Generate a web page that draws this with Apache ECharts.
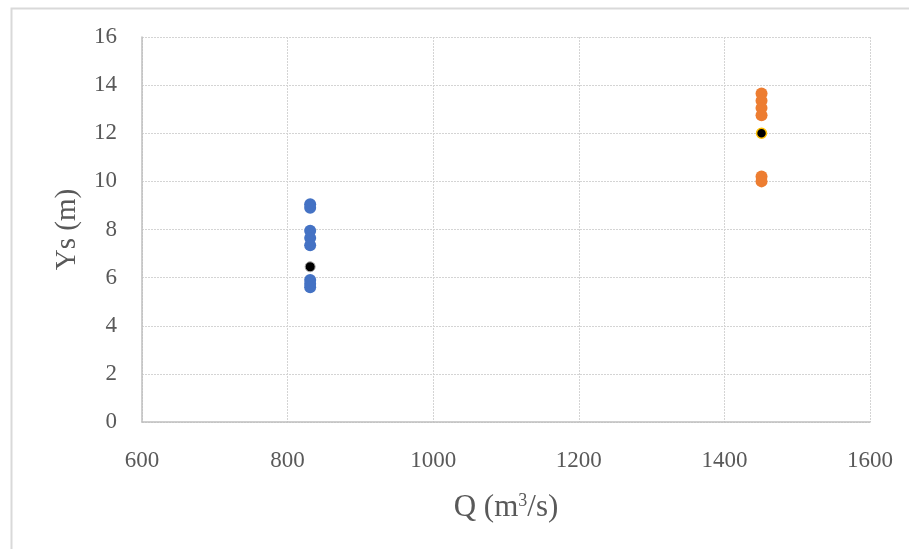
<!DOCTYPE html>
<html>
<head>
<meta charset="utf-8">
<script src="https://cdn.jsdelivr.net/npm/echarts@6/dist/echarts.min.js"></script>
<style>
  html, body { margin: 0; padding: 0; background: #fff; }
  #chart { width: 909px; height: 549px; }
</style>
</head>
<body>
<div id="chart"></div>
<script>
// Discharge Q (m3/s) and scour depth Ys (m) observations
const blueQ = [831, 831, 831, 831, 831, 831, 831, 831];
const blueYs = [9.05, 8.9, 7.95, 7.65, 7.35, 5.9, 5.75, 5.6];
const blueMeanQ = [831];
const blueMeanYs = [6.45];

const orangeQ = [1451, 1451, 1451, 1451, 1451, 1451];
const orangeYs = [13.65, 13.35, 13.05, 12.75, 10.2, 10.0];
const orangeMeanQ = [1451];
const orangeMeanYs = [12.0];

const xTicks = [600, 800, 1000, 1200, 1400, 1600];
const yTicks = [0, 2, 4, 6, 8, 10, 12, 14, 16];

const pairs = (xs, ys) => xs.map((x, i) => [x, ys[i]]);

const chart = echarts.init(document.getElementById('chart'));
const tickFont = { fontFamily: 'Liberation Serif', fontSize: 23, color: '#595959' };
const gridStyle = { color: '#d4d4d4', type: [2, 1], width: 1 };

chart.setOption({
  animation: false,
  backgroundColor: '#fff',
  graphic: [{
    type: 'rect',
    shape: { x: 11.5, y: 8.5, width: 1000, height: 600 },
    style: { fill: 'none', stroke: '#d9d9d9', lineWidth: 2 },
    silent: true
  }],
  grid: { left: 142, right: 39, top: 37, bottom: 127 },
  xAxis: {
    type: 'value',
    min: xTicks[0],
    max: xTicks[xTicks.length - 1],
    interval: 200,
    name: 'Q (m{sup|3}/s)',
    nameLocation: 'middle',
    nameGap: 70,
    nameTextStyle: {
      fontFamily: 'Liberation Serif', fontSize: 31, color: '#595959',
      rich: { sup: { fontFamily: 'Liberation Serif', fontSize: 18, color: '#595959', verticalAlign: 'top', padding: [0, 0, 13, 0] } }
    },
    axisLine: { show: true, lineStyle: { color: '#bfbfbf', width: 1.5 } },
    axisTick: { show: false },
    axisLabel: Object.assign({ margin: 27, formatter: v => String(v) }, tickFont),
    splitLine: { show: true, lineStyle: gridStyle }
  },
  yAxis: {
    type: 'value',
    min: yTicks[0],
    max: yTicks[yTicks.length - 1],
    interval: 2,
    name: 'Ys (m)',
    nameLocation: 'middle',
    nameGap: 60,
    nameTextStyle: { fontFamily: 'Liberation Serif', fontSize: 29, color: '#595959' },
    axisLine: { show: true, lineStyle: { color: '#bfbfbf', width: 1.5 } },
    axisTick: { show: false },
    axisLabel: Object.assign({ margin: 25, formatter: v => String(v) }, tickFont),
    splitLine: { show: true, lineStyle: gridStyle }
  },
  series: [
    {
      type: 'scatter', data: pairs(blueQ, blueYs), symbolSize: 12,
      itemStyle: { color: '#4472c4', opacity: 1 }
    },
    {
      type: 'scatter', data: pairs(orangeQ, orangeYs), symbolSize: 12,
      itemStyle: { color: '#ed7d31', opacity: 1 }
    },
    {
      type: 'scatter', data: pairs(blueMeanQ, blueMeanYs), symbolSize: 10,
      itemStyle: { color: '#000', borderColor: '#a5a5a5', borderWidth: 1, opacity: 1 }
    },
    {
      type: 'scatter', data: pairs(orangeMeanQ, orangeMeanYs), symbolSize: 10,
      itemStyle: { color: '#000', borderColor: '#ffc000', borderWidth: 1.5, opacity: 1 }
    }
  ]
});
</script>
</body>
</html>
